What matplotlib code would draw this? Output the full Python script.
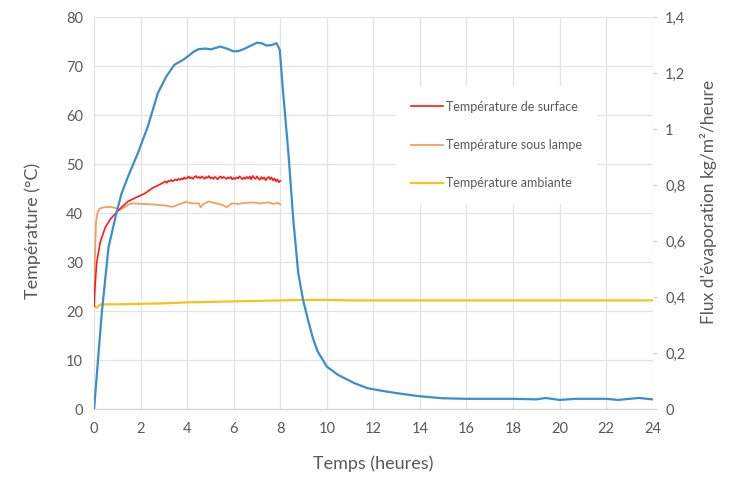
import numpy as np
import matplotlib
matplotlib.use("Agg")
import matplotlib.pyplot as plt
from matplotlib.ticker import FuncFormatter


# flux d'evaporation (axe droit, kg/m2/heure)
flux_t = [0, 0.33, 0.62, 0.97, 1.18, 1.46, 1.88, 2.31, 2.74, 3.1, 3.45, 3.87, 4.3, 4.5,
          4.8, 5.0, 5.43, 5.7, 6.0, 6.2, 6.43, 6.7, 7.0, 7.2, 7.4, 7.6, 7.84, 7.98, 8.1,
          8.35, 8.56, 8.77, 8.98, 9.19, 9.4, 9.6, 10.0, 10.47, 11.18, 11.74, 12.55,
          13.27, 14.0, 14.98, 16, 17, 18, 19, 19.4, 20, 20.7, 22, 22.5, 23.4, 24]
flux = [0, 0.343, 0.578, 0.704, 0.770, 0.831, 0.914, 1.010, 1.129, 1.188, 1.230, 1.250,
        1.278, 1.286, 1.288, 1.285, 1.295, 1.288, 1.278, 1.279, 1.286, 1.297, 1.309,
        1.307, 1.299, 1.300, 1.307, 1.283, 1.152, 0.914, 0.676, 0.487, 0.390, 0.319,
        0.254, 0.207, 0.152, 0.123, 0.093, 0.075, 0.063, 0.054, 0.046, 0.039, 0.037,
        0.037, 0.037, 0.035, 0.040, 0.033, 0.037, 0.037, 0.033, 0.040, 0.035]

# temperature de surface
surf_t_debut = [0, 0.04, 0.11, 0.26, 0.47, 0.7, 0.97, 1.2, 1.46, 1.8, 2.17, 2.5, 2.8]
surf_debut = [21, 25, 29.8, 34, 37, 38.8, 40.2, 41.3, 42.4, 43.2, 44, 45.1, 45.8]
surf_t_plateau = np.linspace(3.0, 8.0, 81)
surf_plateau = [46.3, 46.5, 46.2, 46.6, 46.5, 46.8, 46.5, 46.7, 46.9,
                46.7, 47.0, 46.8, 47.1, 46.9, 47.3, 47.0, 47.2,
                47.5, 47.1, 47.3, 47.0, 47.4, 47.6, 47.2, 47.4,
                47.1, 47.5, 47.3, 47.0, 47.4, 47.2, 47.6, 47.1,
                47.3, 47.0, 47.4, 47.2, 46.9, 47.3, 47.5, 47.1,
                47.4, 47.2, 47.0, 47.3, 47.1, 47.4, 46.9, 47.2,
                47.0, 47.3, 47.1, 47.5, 47.2, 46.9, 47.3, 47.0,
                47.4, 47.1, 47.5, 46.9, 47.6, 47.2, 47.0, 47.5,
                47.1, 46.8, 47.4, 47.0, 47.3, 46.7, 47.2, 47.4,
                46.9, 47.3, 46.7, 47.1, 46.5, 46.9, 46.3, 46.6]

# temperature sous lampe
lampe_t = [0, 0.03, 0.08, 0.15, 0.26, 0.45, 0.68, 0.9, 1.11, 1.3, 1.5, 1.67, 2.0, 2.5,
           3.0, 3.37, 3.7, 3.94, 4.2, 4.5, 4.58, 4.7, 4.94, 5.15, 5.36, 5.55, 5.7, 5.9,
           6.2, 6.5, 6.8, 7.1, 7.5, 7.7, 7.9, 8.0]
lampe = [21, 30, 38, 40.2, 41.0, 41.2, 41.3, 41.1, 40.7, 41.2, 41.8, 42.0, 41.9, 41.8,
         41.6, 41.3, 41.9, 42.3, 42.0, 42.0, 41.2, 41.9, 42.4, 42.1, 41.9, 41.6, 41.2,
         42.0, 41.9, 42.1, 42.2, 42.0, 42.2, 41.9, 42.1, 41.8]

# temperature ambiante
amb_t = [0, 0.1, 0.3, 1, 2, 3, 4, 5, 6, 7, 8, 9, 10, 11, 12, 14, 16, 18, 20, 22, 24]
amb = [21.2, 20.7, 21.4, 21.4, 21.5, 21.6, 21.8, 21.9, 22.0, 22.1, 22.2, 22.3, 22.3,
       22.2, 22.2, 22.2, 22.2, 22.2, 22.2, 22.2, 22.2]

x_ticks = list(range(0, 25, 2))
y_ticks = list(range(0, 81, 10))
y2_ticks = [0, 0.2, 0.4, 0.6, 0.8, 1.0, 1.2, 1.4]


def virgule(v, pos):
    txt = f"{v:.1f}".rstrip("0").rstrip(".")
    return txt.replace(".", ",")


plt.rcParams["font.family"] = ["Lato", "DejaVu Sans"]
gris = "#595959"

fig = plt.figure(figsize=(7.35, 4.78), dpi=100)
ax = fig.add_axes([0.128, 0.144, 0.76, 0.82])
ax2 = ax.twinx()

ax.plot(amb_t, amb, color="#F7C21A", lw=1.6, label="Température ambiante", zorder=3)
ax.plot(lampe_t, lampe, color="#F0A15E", lw=1.3, label="Température sous lampe", zorder=3)
ax.plot(list(surf_t_debut) + list(surf_t_plateau), surf_debut + surf_plateau,
        color="#FF1A1A", lw=1.2, label="Température de surface", zorder=4)
ax2.plot(flux_t, flux, color="#3C8DCF", lw=1.6)

ax.set_xlim(0, 24)
ax.set_ylim(0, 80)
ax2.set_ylim(0, 1.4)
ax.set_xticks(x_ticks)
ax.set_yticks(y_ticks)
ax2.set_yticks(y2_ticks)
ax2.yaxis.set_major_formatter(FuncFormatter(virgule))

ax.grid(True, color="#E3E3E3", lw=0.9)
ax.set_axisbelow(True)
for a in (ax, ax2):
    for s in a.spines.values():
        s.set_visible(False)
ax.spines["bottom"].set_visible(True)
ax.spines["bottom"].set_color("#D0D0D0")

ax.tick_params(axis="both", length=0, labelsize=10.5, colors=gris, pad=8)
ax.tick_params(axis="x", pad=9)
ax2.tick_params(axis="y", length=3, color="#D0D0D0", labelsize=10.5, colors=gris, pad=6)

ax.set_xlabel("Temps (heures)", fontsize=13, color=gris)
ax.xaxis.set_label_coords(0.5, -0.118)
ax.set_ylabel("Température (°C)", fontsize=13, color=gris)
ax.yaxis.set_label_coords(-0.095, 0.455)
ax2.set_ylabel("Flux d'évaporation kg/m²/heure", fontsize=12.5, color=gris)
ax2.yaxis.set_label_coords(1.084, 0.529)

handles, labels = ax.get_legend_handles_labels()
ordre = [2, 1, 0]
leg = ax2.legend([handles[i] for i in ordre], [labels[i] for i in ordre],
                 loc="center", bbox_to_anchor=(0.72, 0.674), fontsize=9,
                 frameon=True, facecolor="white", edgecolor="none", framealpha=1,
                 labelspacing=2.1, handlelength=2.6, handletextpad=0.2,
                 borderpad=1.2, fancybox=False)
for t in leg.get_texts():
    t.set_color(gris)

fig.savefig("out.png", dpi=100)
